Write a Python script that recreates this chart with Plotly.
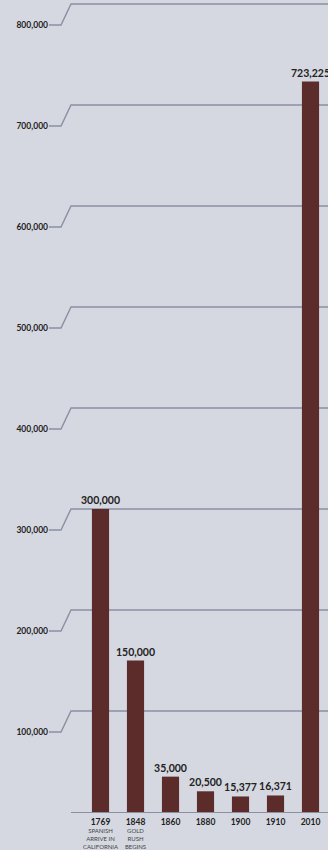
import plotly.graph_objects as go

years = ["1769", "1848", "1860", "1880", "1900", "1910", "2010"]
population = [300000, 150000, 35000, 20500, 15377, 16371, 723225]
subtitles = ["SPANISH<br>ARRIVE IN<br>CALIFORNIA", "GOLD<br>RUSH<br>BEGINS", "", "", "", "", ""]
ytick_vals = [100000, 200000, 300000, 400000, 500000, 600000, 700000, 800000]
ytick_text = ["100,000", "200,000", "300,000", "400,000", "500,000", "600,000", "700,000", "800,000"]

BG = "#d5d8e1"
BAR = "#5c2c2b"
GRID = "#8a8fa3"
W, H = 328, 850
ML, MB = 71, 38
PX_PER_100K = 101.0
plot_h = H - MB
ymax = plot_h / PX_PER_100K * 100000

xt = []
for y, s in zip(years, subtitles):
    lab = f"<b><span style='font-size:8.5px;color:#222222'>{y}</span></b>"
    if s:
        lab += "<br>" + s
    xt.append(lab)

fig = go.Figure()
fig.add_trace(go.Bar(
    x=years, y=population,
    marker=dict(color=BAR, line=dict(width=0)),
    width=0.49,
    text=[f"<b>{v:,}</b>" for v in population],
    textposition="outside",
    constraintext="none",
    textfont=dict(family="Lato", size=10.5, color="#222222"),
    cliponaxis=False,
    hoverinfo="skip",
))

shapes = []
for v in ytick_vals:
    shapes.append(dict(
        type="path", xref="paper", yref="y",
        xsizemode="pixel", ysizemode="pixel",
        xanchor=0, yanchor=v,
        path=f"M -22,-21 L -10,-21 L 0,0 L {W - ML + 2},0",
        line=dict(color=GRID, width=1.4),
        layer="below",
    ))

fig.update_layout(
    width=W, height=H,
    margin=dict(l=ML, r=0, t=0, b=MB, pad=0),
    paper_bgcolor=BG, plot_bgcolor=BG,
    showlegend=False,
    shapes=shapes,
    xaxis=dict(
        type="category", range=[-0.843, 6.5],
        tickvals=years, ticktext=xt,
        tickfont=dict(family="Lato", size=6, color="#444444"),
        showgrid=False, zeroline=False,
        showline=True, linecolor=GRID, linewidth=1.4,
        ticks="", ticklabelstandoff=5, automargin=False,
    ),
    yaxis=dict(
        range=[0, ymax],
        tickvals=ytick_vals, ticktext=ytick_text,
        tickfont=dict(family="Lato", size=8.5, color="#222222", weight=700),
        showgrid=False, zeroline=False, showline=False,
        ticks="", ticklabelshift=21, ticklabelstandoff=22,
        automargin=False,
    ),
)

fig.write_html("out.html")
